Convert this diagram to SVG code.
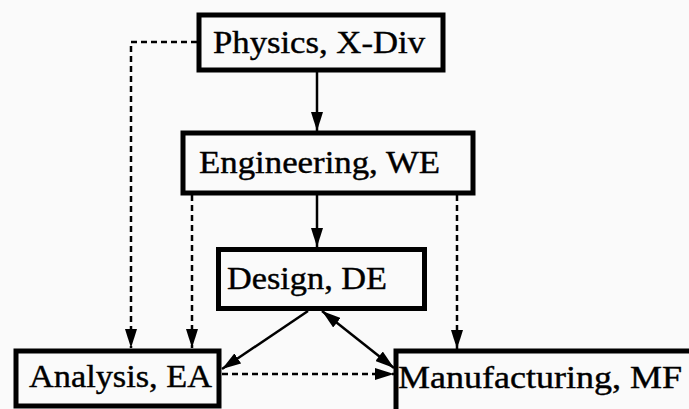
<svg xmlns="http://www.w3.org/2000/svg" width="689" height="409" viewBox="0 0 689 409">
<style>
.box{fill:#fafafa;stroke:#000;stroke-width:5}
.lbl{font-family:"Liberation Serif","DejaVu Serif",serif;font-size:31px;fill:#000;stroke:#000;stroke-width:0.4}
.solid{fill:none;stroke:#000;stroke-width:2.5}
.dash{fill:none;stroke:#000;stroke-width:2.5;stroke-dasharray:6 4}
</style>
<defs>
<marker id="ah" markerUnits="userSpaceOnUse" markerWidth="19" markerHeight="12" refX="19" refY="6" orient="auto">
<path d="M0,0 L19,6 L0,12 z" fill="#000"/>
</marker>
<marker id="ahs" markerUnits="userSpaceOnUse" markerWidth="19" markerHeight="12" refX="0" refY="6" orient="auto">
<path d="M19,0 L0,6 L19,12 z" fill="#000"/>
</marker>
</defs>
<rect width="689" height="409" fill="#fafafa"/>
<g id="connectors">
<line class="solid" x1="317" y1="72" x2="317" y2="131" marker-end="url(#ah)"/>
<line class="solid" x1="317" y1="195" x2="317" y2="247" marker-end="url(#ah)"/>
<polyline class="dash" points="197,42 131,42 131,348" marker-end="url(#ah)"/>
<line class="dash" x1="192" y1="195" x2="192" y2="348" marker-end="url(#ah)"/>
<line class="dash" x1="457" y1="195" x2="457" y2="349" marker-end="url(#ah)"/>
<line class="solid" x1="308" y1="311" x2="222" y2="369" marker-end="url(#ah)"/>
<line class="solid" x1="322" y1="311" x2="394" y2="368" marker-start="url(#ahs)" marker-end="url(#ah)"/>
<line class="dash" x1="222" y1="374" x2="394" y2="374" marker-end="url(#ah)"/>
</g>
<g id="physics">
<rect class="box" x="199" y="15" width="244" height="55"/>
<text class="lbl" x="213" y="53" textLength="212" lengthAdjust="spacingAndGlyphs">Physics, X-Div</text>
</g>
<g id="engineering">
<rect class="box" x="183" y="133" width="290" height="60"/>
<text class="lbl" x="199" y="173" textLength="241" lengthAdjust="spacingAndGlyphs">Engineering, WE</text>
</g>
<g id="design">
<rect class="box" x="218.5" y="249.5" width="206" height="59"/>
<text class="lbl" x="227" y="289" textLength="160" lengthAdjust="spacingAndGlyphs">Design, DE</text>
</g>
<g id="analysis">
<rect class="box" x="16" y="351" width="203" height="55"/>
<text class="lbl" x="29" y="387" textLength="183" lengthAdjust="spacingAndGlyphs">Analysis, EA</text>
</g>
<g id="manufacturing">
<rect class="box" x="396" y="351" width="310" height="80"/>
<text class="lbl" x="398" y="388" textLength="284" lengthAdjust="spacingAndGlyphs">Manufacturing, MF</text>
</g>
</svg>
